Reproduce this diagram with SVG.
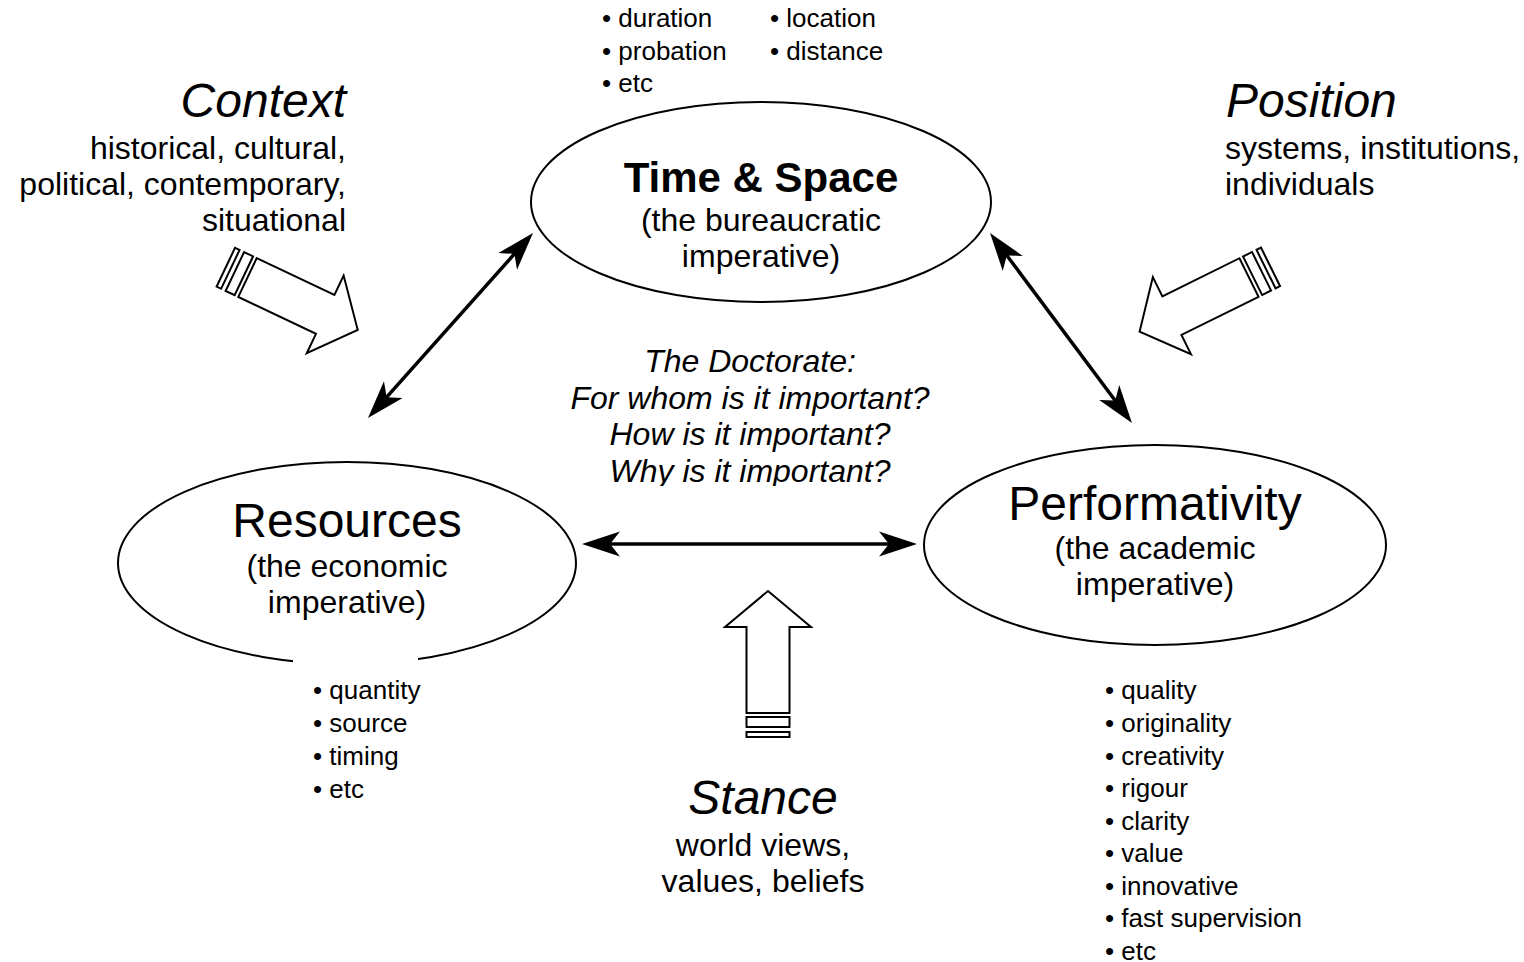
<svg xmlns="http://www.w3.org/2000/svg" xmlns:xlink="http://www.w3.org/1999/xlink" width="1524" height="962" viewBox="0 0 1524 962">
  <style>
    text { font-family: "Liberation Sans", Arial, Helvetica, sans-serif; fill: #000; }
    .big { font-size: 48px; }
    .head { font-size: 42px; font-weight: bold; }
    .ital { font-style: italic; }
    .body { font-size: 32px; }
    .list { font-size: 26px; }
    .mid { text-anchor: middle; }
    .end { text-anchor: end; }
    .node { fill: #fff; stroke: #000; stroke-width: 2; }
    .conn { fill: none; stroke: #000; stroke-width: 3.5; marker-start: url(#head); marker-end: url(#head); }
    .block { fill: #fff; stroke: #000; stroke-width: 2; stroke-linejoin: miter; }
  </style>
  <defs>
    <!-- notched filled arrowhead; tip sits 20px beyond the line end -->
    <marker id="head" markerUnits="userSpaceOnUse" viewBox="-20 -13 42 26" markerWidth="42" markerHeight="26" refX="0" refY="0" orient="auto-start-reverse" overflow="visible">
      <path d="M20,0 L-18,-12.5 L-8,0 L-18,12.5 Z" fill="#000"/>
    </marker>
    <!-- hollow block arrow pointing along +x, with two bars behind its tail -->
    <g id="blockArrow" class="block">
      <path d="M0,-21.5 L86,-21.5 L86,-43 L122,0 L86,43 L86,21.5 L0,21.5 Z"/>
      <rect x="-14" y="-21.5" width="10" height="43"/>
      <rect x="-24" y="-21.5" width="5" height="43"/>
    </g>
    <clipPath id="questionsClip">
      <rect x="500" y="330" width="500" height="156"/>
    </clipPath>
  </defs>

  <rect width="1524" height="962" fill="#fff"/>

  <!-- influences: block arrows with their labels -->
  <g id="context">
    <use xlink:href="#blockArrow" transform="translate(247.5 277.5) rotate(25.4)"/>
    <text class="big ital end" x="346" y="117">Context</text>
    <text class="body end" x="346" y="159">historical, cultural,</text>
    <text class="body end" x="346" y="195">political, contemporary,</text>
    <text class="body end" x="346" y="231">situational</text>
  </g>

  <g id="position">
    <use xlink:href="#blockArrow" transform="translate(1249 277.5) rotate(153.7)"/>
    <text class="big ital" x="1226" y="117">Position</text>
    <text class="body" x="1225" y="159">systems, institutions,</text>
    <text class="body" x="1225" y="195">individuals</text>
  </g>

  <g id="stance">
    <use xlink:href="#blockArrow" transform="translate(768 713) rotate(-90)"/>
    <text class="big ital mid" x="763" y="814">Stance</text>
    <text class="body mid" x="763" y="856">world views,</text>
    <text class="body mid" x="763" y="892">values, beliefs</text>
  </g>

  <!-- two-way connectors between the three imperatives -->
  <g id="connectors">
    <line class="conn" x1="381.3" y1="403.1" x2="519.7" y2="247.9"/>
    <line class="conn" x1="1002" y1="249" x2="1120" y2="407"/>
    <line class="conn" x1="602" y1="544" x2="897" y2="544"/>
  </g>

  <g id="time-space">
    <ellipse class="node" cx="761" cy="202" rx="230" ry="100"/>
    <text class="head mid" x="761" y="192">Time &amp; Space</text>
    <text class="body mid" x="761" y="231">(the bureaucratic</text>
    <text class="body mid" x="761" y="267">imperative)</text>
    <text class="list" x="602" y="27">• duration</text>
    <text class="list" x="602" y="60">• probation</text>
    <text class="list" x="602" y="92">• etc</text>
    <text class="list" x="770" y="27">• location</text>
    <text class="list" x="770" y="60">• distance</text>
  </g>

  <g id="resources">
    <ellipse class="node" cx="347" cy="563" rx="229" ry="101"/>
    <rect x="293" y="655" width="125" height="150" fill="#fff"/>
    <text class="big mid" x="347" y="537">Resources</text>
    <text class="body mid" x="347" y="577">(the economic</text>
    <text class="body mid" x="347" y="613">imperative)</text>
    <text class="list" x="313" y="699">• quantity</text>
    <text class="list" x="313" y="732">• source</text>
    <text class="list" x="313" y="765">• timing</text>
    <text class="list" x="313" y="798">• etc</text>
  </g>

  <g id="performativity">
    <ellipse class="node" cx="1155" cy="545" rx="231" ry="100"/>
    <text class="big mid" x="1155" y="520">Performativity</text>
    <text class="body mid" x="1155" y="559">(the academic</text>
    <text class="body mid" x="1155" y="595">imperative)</text>
    <text class="list" x="1105" y="699">• quality</text>
    <text class="list" x="1105" y="732">• originality</text>
    <text class="list" x="1105" y="765">• creativity</text>
    <text class="list" x="1105" y="797">• rigour</text>
    <text class="list" x="1105" y="830">• clarity</text>
    <text class="list" x="1105" y="862">• value</text>
    <text class="list" x="1105" y="895">• innovative</text>
    <text class="list" x="1105" y="927">• fast supervision</text>
    <text class="list" x="1105" y="960">• etc</text>
  </g>

  <g id="doctorate" clip-path="url(#questionsClip)">
    <text class="body ital mid" x="750" y="372">The Doctorate:</text>
    <text class="body ital mid" x="750" y="409">For whom is it important?</text>
    <text class="body ital mid" x="750" y="445">How is it important?</text>
    <text class="body ital mid" x="750" y="482">Why is it important?</text>
  </g>
</svg>
